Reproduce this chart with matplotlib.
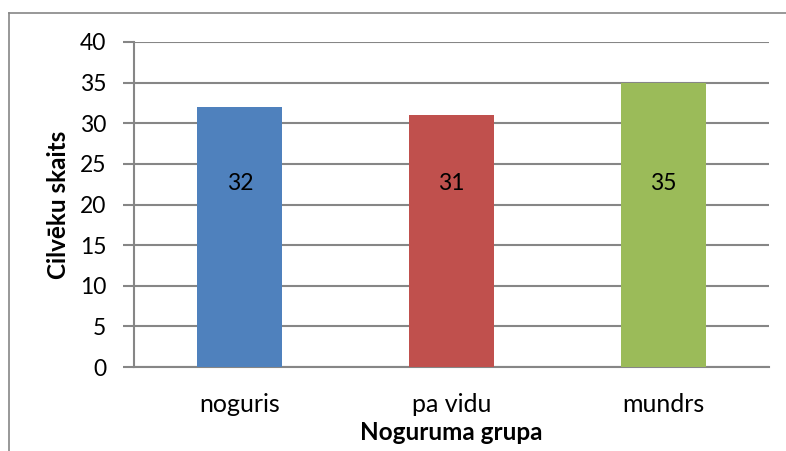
import matplotlib.pyplot as plt
from matplotlib.lines import Line2D

categories = ["noguris", "pa vidu", "mundrs"]
values = [32, 31, 35]
colors = ["#4F81BD", "#C0504D", "#9BBB59"]
yticks = [0, 5, 10, 15, 20, 25, 30, 35, 40]

plt.rcParams["font.family"] = ["Lato", "DejaVu Sans"]

fig = plt.figure(figsize=(7.86, 4.51), dpi=100)
ax = fig.add_axes([134 / 786, 1 - 367 / 451, 635 / 786, 325 / 451])

x = range(len(categories))
bars = ax.bar(x, values, width=0.40, color=colors, zorder=3)
# Excel put the labels at about the same height in every bar
label_level = 22.6
for bar, v in zip(bars, values):
    ax.text(bar.get_x() + bar.get_width() / 2, label_level, str(v),
            ha="center", va="center", fontsize=16.5, zorder=4)

ax.set_xlim(-0.5, 2.5)
ax.set_ylim(0, 40)
ax.set_yticks(yticks)
ax.set_xticks(list(x))
ax.set_xticklabels(categories, fontsize=18)
ax.tick_params(axis="y", labelsize=16.5, length=8, width=1.5, color="#868686", pad=12)
ax.tick_params(axis="x", length=0, pad=19)
ax.grid(axis="y", color="#868686", linewidth=1.5, zorder=0)

for s in ["top", "right"]:
    ax.spines[s].set_visible(False)
for s in ["left", "bottom"]:
    ax.spines[s].set_color("#868686")
    ax.spines[s].set_linewidth(1.5)

ax.set_ylabel("Cilvēku skaits", fontsize=17.5, fontweight="bold", va="center")
ax.yaxis.set_label_coords((58 - 134) / 635, 0.5)
ax.set_xlabel("Noguruma grupa", fontsize=17.5, fontweight="bold", va="center")
ax.xaxis.set_label_coords(0.5, (367 - 433) / 325)

# chart frame (only left and top edges fall inside the image)
fig.add_artist(Line2D([8.5 / 786, 8.5 / 786], [0, 1 - 12.5 / 451],
                      color="#868686", linewidth=1.2))
fig.add_artist(Line2D([8.5 / 786, 1], [1 - 12.5 / 451, 1 - 12.5 / 451],
                      color="#868686", linewidth=1.2))

fig.savefig("out.png", dpi=100)
